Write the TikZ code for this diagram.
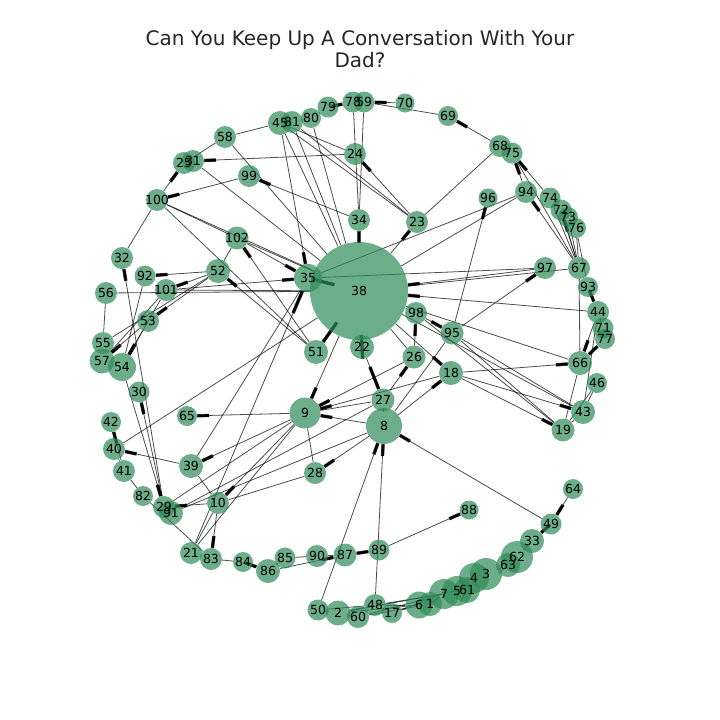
\documentclass[tikz,border=0pt]{standalone}
\usepackage{fontspec}
\setmainfont{DejaVu Sans}
\usetikzlibrary{arrows.meta}
\definecolor{ng}{RGB}{46,139,87}
\definecolor{tc}{RGB}{38,38,38}
\pgfdeclarelayer{bg}
\pgfdeclarelayer{fg}
\pgfsetlayers{bg,main,fg}
\tikzset{
  nd/.style={circle, fill=ng, fill opacity=0.7, inner sep=0pt, minimum size=22pt},
  lab/.style={inner sep=0pt, text=black, font=\fontsize{12.5}{13}\selectfont},
  ed/.style={draw=black, draw opacity=0.7, line width=0.8pt},
  ar/.style={ed, -{Rectangle[length=12pt,width=3.4pt]}},
  arl/.style={ed, -{Rectangle[length=24pt,width=3.4pt]}}
}
\begin{document}
\begin{tikzpicture}[x=1pt,y=-1pt]
\useasboundingbox (0,0) rectangle (720,720);
\node[align=center, text=tc, font=\fontsize{20}{22}\selectfont] (title) at (360,49) {Can You Keep Up A Conversation With Your\\Dad?};
% nodes
\foreach \n/\x/\y/\d in {
1/430/604/24, 2/338/613/25, 3/486/574/32, 4/474/578/30, 5/457/591/30, 6/419/605/27, 7/444/594/30,
8/384/426/36, 9/305/413/31, 10/218/503/22, 17/392/613/20, 18/451/373/24, 19/563/430/23,
21/191/553/22, 22/362/347/24, 23/417/222/22, 24/355/154/22, 25/184/163/22, 26/414/357/23,
27/383/400/23, 28/315/473/22, 29/164/507/22, 30/139/392/21, 31/193/161/22, 32/122/258/22,
33/532/541/24, 34/359/220/22, 35/308/278/28, 38/359/291/98, 39/191/466/24, 40/114/449/22,
41/124/471/22, 42/111/422/20, 43/583/412/24, 44/598/312/22, 45/280/123/24, 46/597/383/20,
48/375/605/22, 49/551/524/21, 50/318/610/21, 51/316/352/24, 52/218/271/24, 53/148/321/22,
54/122/367/28, 55/103/343/22, 56/106/293/22, 57/102/361/25, 58/225/137/22, 59/364/102/21,
60/358/617/22, 61/467/590/26, 62/517/557/32, 63/508/565/24, 64/573/489/20, 65/187/416/20,
66/580/363/24, 67/579/268/22, 68/500/146/22, 69/448/116/20, 70/405/103/19, 71/603/328/21,
72/561/210/21, 73/568/217/20, 74/550/198/21, 75/512/153/21, 76/576/228/20, 77/605/339/20,
78/353/102/21, 79/328/107/21, 80/311/118/20, 81/292/122/22, 82/143/496/20, 83/211/559/22,
84/243/562/20, 85/285/558/21, 86/268/571/24, 87/345/555/23, 88/469/510/19, 89/379/550/21,
90/317/556/22, 91/171/513/24, 92/145/276/21, 93/588/287/20, 94/526/192/22, 95/452/333/23,
96/488/198/19, 97/545/268/22, 98/416/313/22, 99/249/176/22, 100/157/200/22, 101/166/290/22,
102/237/238/23}
{ \node[nd, minimum size=\d pt] (\n) at (\x,\y) {}; }
% labels
\begin{pgfonlayer}{fg}
\foreach \n in {1,2,3,4,5,6,7,8,9,10,17,18,19,21,22,23,24,25,26,27,28,29,30,31,32,33,34,35,38,39,40,41,42,43,44,45,46,48,49,50,51,52,53,54,55,56,57,58,59,60,61,62,63,64,65,66,67,68,69,70,71,72,73,74,75,76,77,78,79,80,81,82,83,84,85,86,87,88,89,90,91,92,93,94,95,96,97,98,99,100,101,102}
{ \node[lab] (l\n) at (\n) {\n}; }
\end{pgfonlayer}
% edges
\begin{pgfonlayer}{bg}
\foreach \a/\b in {79/78, 70/59, 68/69, 94/75, 74/75, 67/94, 67/72, 95/96, 95/97, 93/44, 77/66, 44/66, 18/66, 18/43, 18/19, 64/49, 49/8, 89/88, 89/87, 50/8, 48/8, 38/9, 26/9, 8/9, 18/9, 8/28, 27/26, 26/98, 98/95, 38/18, 8/18, 38/34, 38/23, 23/24, 24/31, 100/25, 99/100, 34/99, 51/102, 102/35, 101/35, 52/92, 51/52, 52/101, 52/53, 53/57, 53/54, 101/54, 29/32, 29/30, 54/29, 41/42, 39/40, 9/39, 10/29, 9/10, 10/83, 9/65, 45/35, 97/38, 44/38, 84/86, 86/87, 49/33}
{ \draw[ar] (\a) -- (\b); }
\foreach \a/\b in {21/35, 35/38, 38/51, 38/22, 22/27}
{ \draw[arl] (\a) -- (\b); }
\foreach \a/\b in {81/80, 80/79, 45/81, 69/59, 68/75, 74/67, 72/67, 73/67, 76/67, 75/67, 67/93, 44/71, 71/77, 44/43, 67/66, 38/66, 95/43, 95/19, 46/43, 46/19, 43/19, 66/19, 38/43, 98/19, 58/45, 58/25, 58/38, 31/38, 45/38, 81/38, 80/38, 78/34, 59/34, 45/24, 45/23, 81/23, 68/23, 94/38, 94/35, 97/35, 67/38, 100/102, 100/38, 100/32, 100/51, 102/52, 102/38, 56/38, 101/38, 56/55, 55/52, 57/101, 92/54, 40/38, 41/82, 82/83, 39/35, 39/10, 10/21, 10/28, 21/83, 83/84, 85/86, 85/90, 90/87, 87/89, 29/9, 91/8, 9/28, 27/8, 27/9, 95/8, 38/26, 38/98, 21/9, 76/93, 40/41, 91/27,
50/2, 2/60, 60/48, 48/17, 17/6, 6/1, 1/7, 7/5, 5/61, 61/4, 4/3, 3/63, 63/62, 62/33, 2/48, 60/7, 48/7, 17/7, 2/6, 50/48, 2/5, 60/1, 48/6}
{ \draw[ed] (\a) -- (\b); }
\end{pgfonlayer}
\end{tikzpicture}
\end{document}
